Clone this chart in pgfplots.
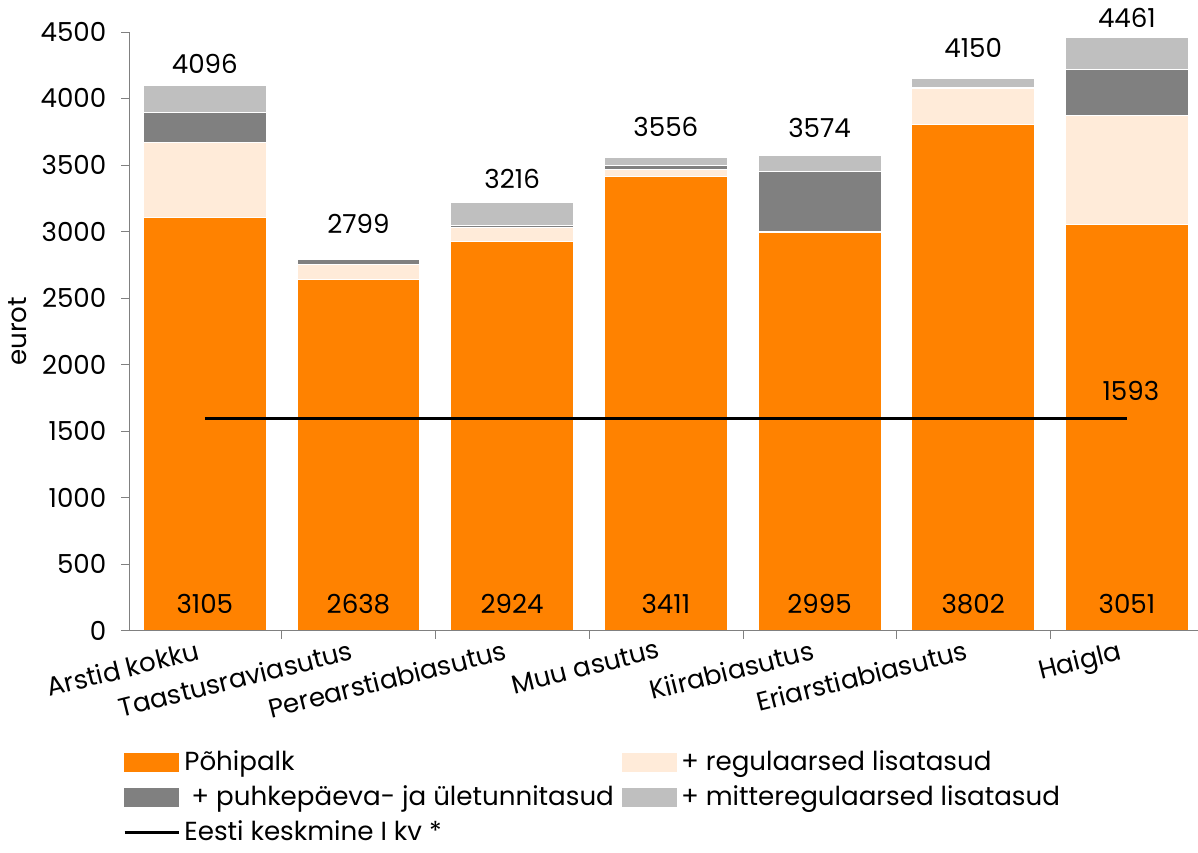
\documentclass[border=0pt]{standalone}
\usepackage{fontspec}
\setmainfont{Poppins}
\usepackage{pgfplots}
\usepackage{pgfplotstable}
\pgfplotsset{compat=1.18}
\definecolor{pohi}{HTML}{FF8200}
\definecolor{regul}{HTML}{FFEBD9}
\definecolor{puhke}{HTML}{808080}
\definecolor{mitte}{HTML}{BFBFBF}

% one table per segment: x, value, total of the bar
\pgfplotstableread{
x y
0 3105
1 2638
2 2924
3 3411
4 2995
5 3802
6 3051
}\pohipalk
\pgfplotstableread{
x y
0 564
1 112
2 106
3 55
4 8
5 273
6 822
}\regulaarsed
\pgfplotstableread{
x y
0 225
1 36
2 17
3 30
4 450
5 10
6 343
}\puhkepaev
\pgfplotstableread{
x y t
0 202 4096
1 13 2799
2 169 3216
3 60 3556
4 121 3574
5 65 4150
6 245 4461
}\mitteregul

\newcommand{\fs}{\fontsize{13}{15}\selectfont}

\begin{document}
\fs
\begin{tikzpicture}
\pgfplotsset{common/.style={
  width=531.5pt, height=298pt, scale only axis,
  xmin=-0.49, xmax=6.46, ymin=0, ymax=4500, clip=false,
  /pgf/number format/assume math mode=true,
  /pgf/number format/1000 sep={},
  tick label style={font=\fs},
  axis line style={black!50}, tick style={black!50},
  tick align=outside, major tick length=4pt}}

\begin{axis}[common,
  ybar stacked, bar width=0.8,
  axis x line*=bottom, axis y line*=left,
  ytick={0,500,...,4500},
  yticklabels={0,500,1000,1500,2000,2500,3000,3500,4000,4500},
  yticklabel style={xshift=-3pt},
  ylabel={eurot}, ylabel style={font=\fs, yshift=-2pt},
  xtick={0,...,6}, xtick style={draw=none},
  xticklabels={Arstid kokku,Taastusraviasutus,Perearstiabiasutus,Muu asutus,Kiirabiasutus,Eriarstiabiasutus,Haigla},
  xticklabel style={rotate=14, anchor=north east, yshift=5pt},
  every axis plot/.append style={draw=white, line width=0.5pt}]
\addplot[fill=pohi] table[x=x,y=y] {\pohipalk};
\addplot[fill=regul] table[x=x,y=y] {\regulaarsed};
\addplot[fill=puhke] table[x=x,y=y] {\puhkepaev};
\addplot[fill=mitte, nodes near coords, point meta=explicit,
  every node near coord/.append style={anchor=south, yshift=8pt, text=black, font=\fs}]
  table[x=x,y=y,meta=t] {\mitteregul};
\end{axis}

\begin{axis}[common,
  axis x line*=bottom, axis y line=none,
  xtick={0.5,1.5,...,5.5}, xticklabels={},
  legend columns=2, legend cell align=left,
  legend style={at={(-0.012,-0.186)}, anchor=north west, draw=none, fill=none,
    font=\fs, row sep=1.5pt,
    /tikz/every even column/.append style={column sep=2pt}}]
\addlegendimage{legend image code/.code={\fill[pohi] (0pt,-4.5pt) rectangle (27pt,4.5pt);}}
\addlegendentry{Põhipalk}
\addlegendimage{legend image code/.code={\fill[regul] (0pt,-4.5pt) rectangle (27pt,4.5pt);}}
\addlegendentry{+ regulaarsed lisatasud}
\addlegendimage{legend image code/.code={\fill[puhke] (0pt,-4.5pt) rectangle (27pt,4.5pt);}}
\addlegendentry{\ + puhkepäeva- ja ületunnitasud}
\addlegendimage{legend image code/.code={\fill[mitte] (0pt,-4.5pt) rectangle (27pt,4.5pt);}}
\addlegendentry{+ mitteregulaarsed lisatasud}
% base salary labels at the foot of each bar
\addplot[draw=none, mark=none, forget plot, nodes near coords, point meta=explicit,
  every node near coord/.append style={anchor=south, yshift=4pt, font=\fs}]
  table[x=x,y expr=0,meta=y] {\pohipalk};
\addplot[black, line width=1.5pt, mark=none,
  legend image code/.code={\draw[black, line width=1.5pt] (0pt,0pt) -- (27pt,0pt);}]
  coordinates {(0,1593) (6,1593)} node[pos=1, anchor=south, yshift=4pt, xshift=2pt] {1593};
\addlegendentry{Eesti keskmine I kv *}
\end{axis}
\end{tikzpicture}
\end{document}
